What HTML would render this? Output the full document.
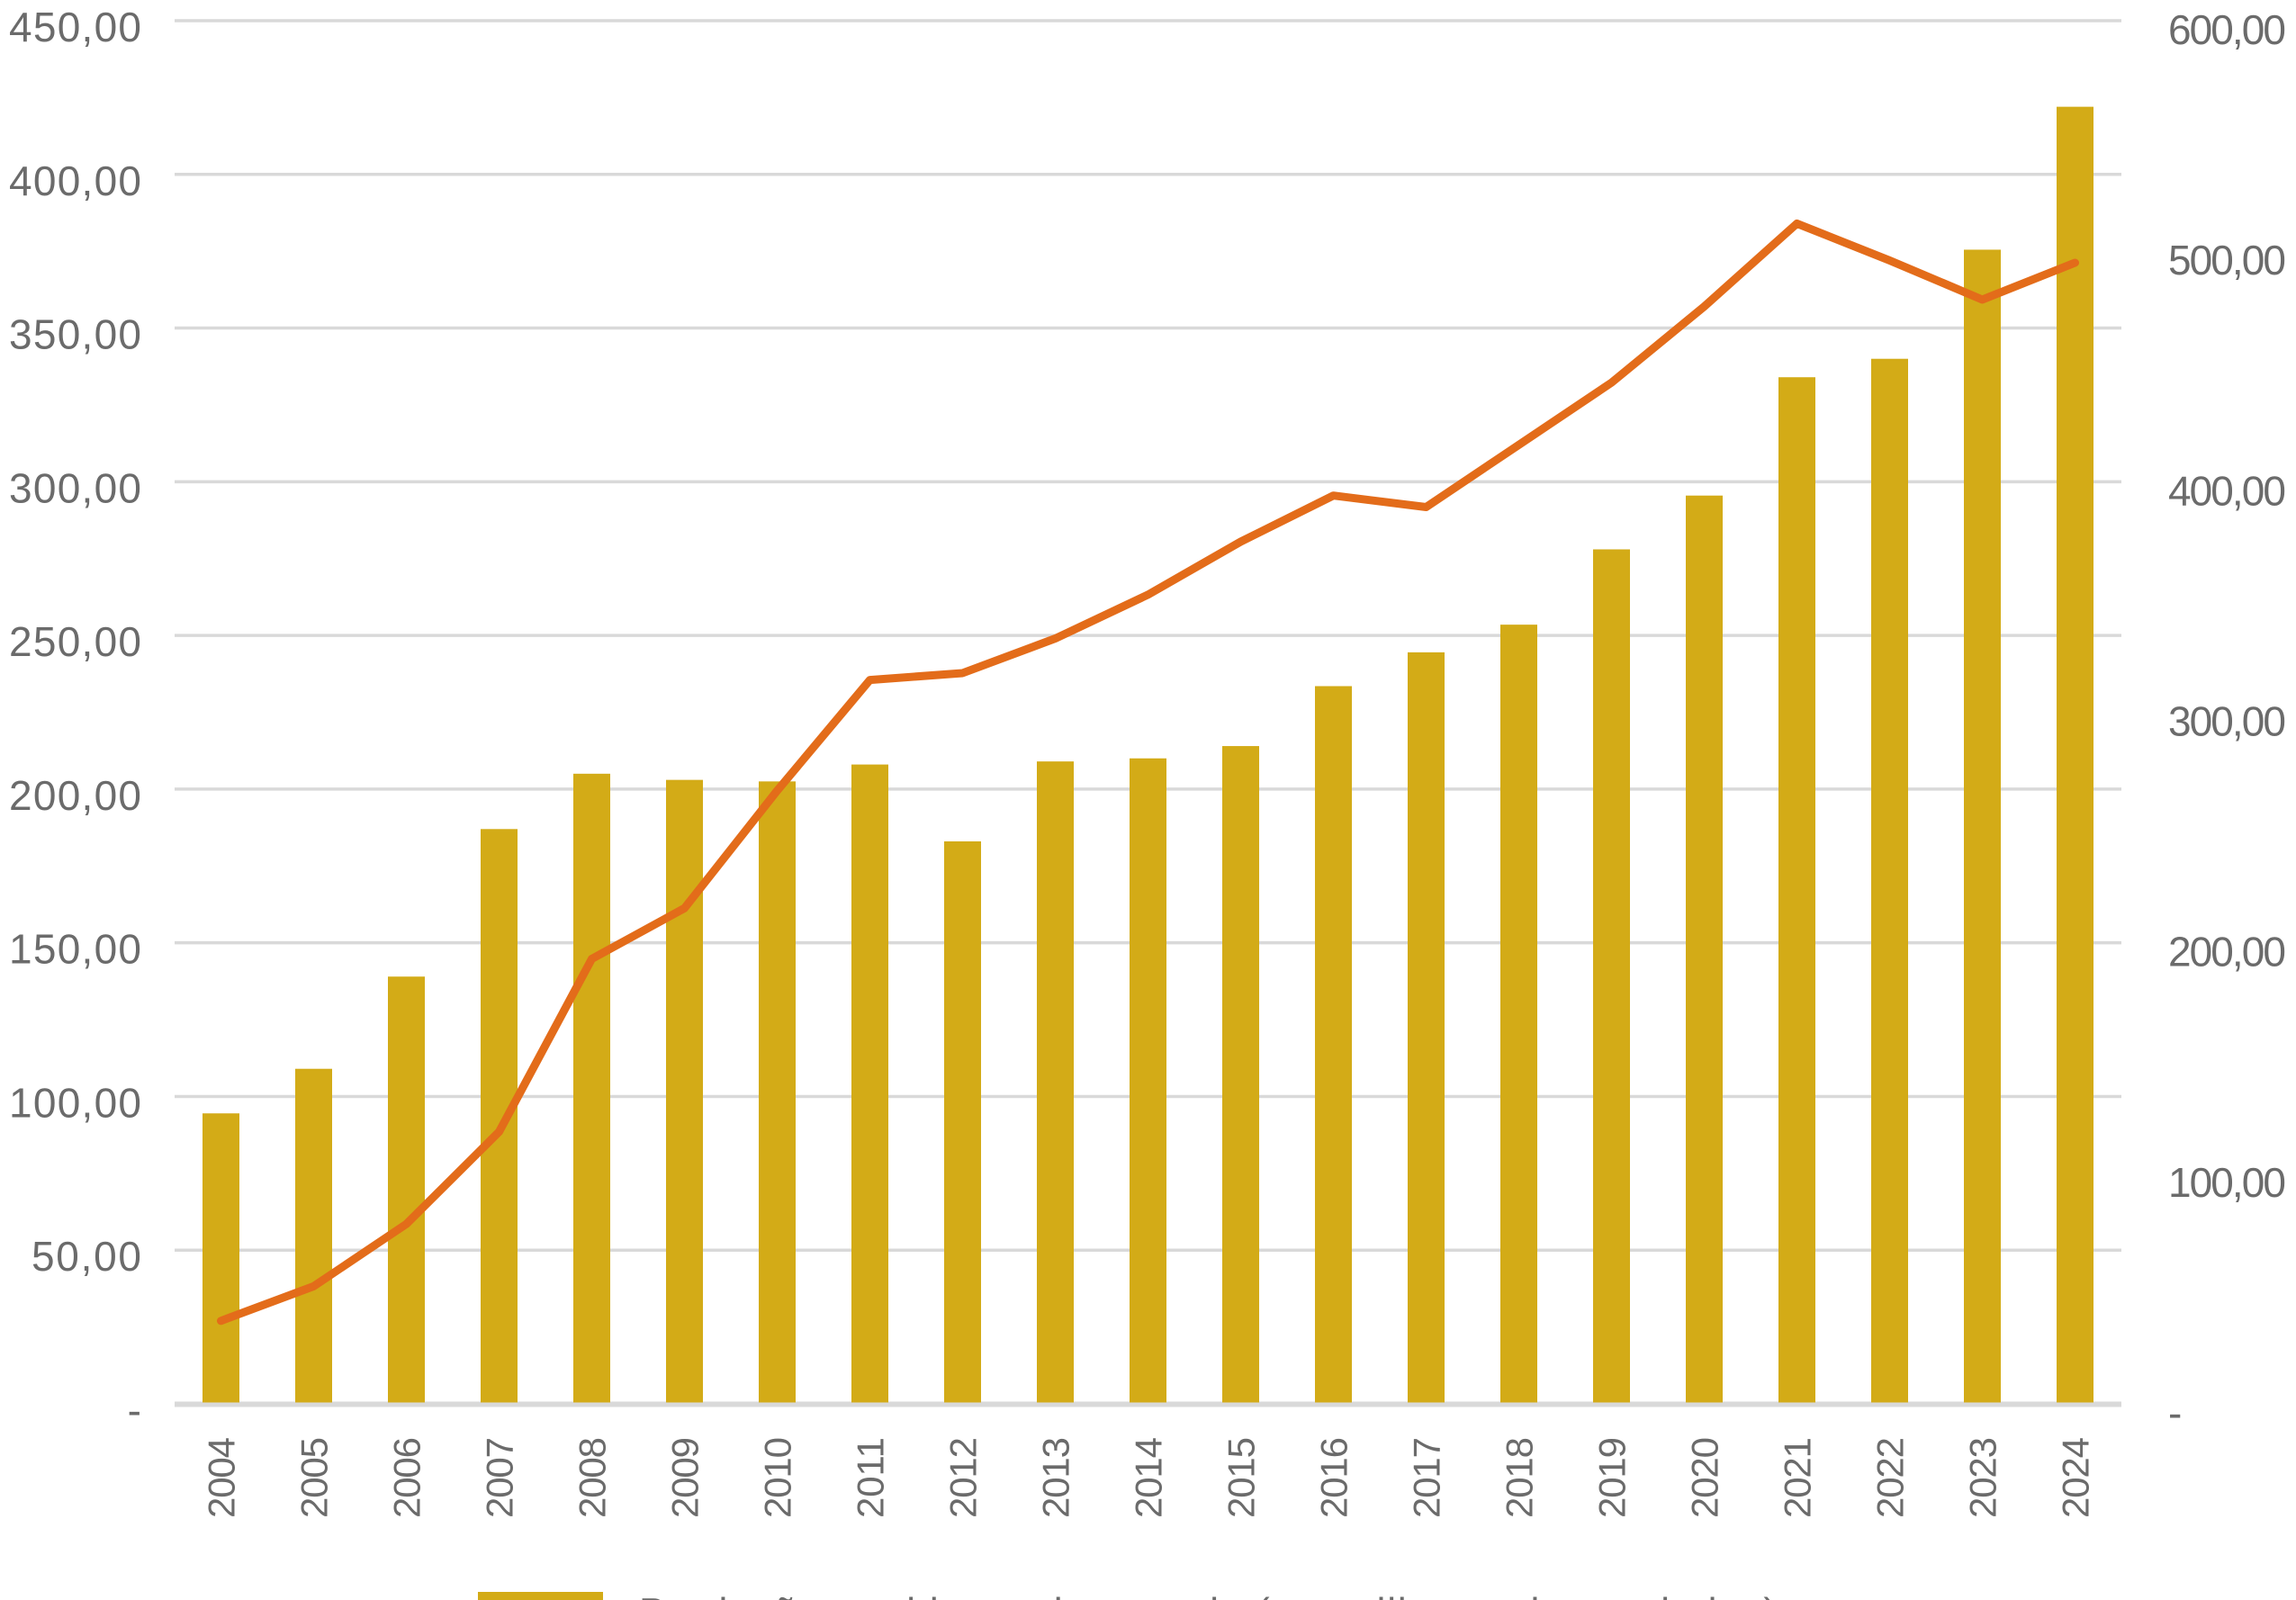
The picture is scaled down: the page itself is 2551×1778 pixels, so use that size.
<!DOCTYPE html>
<html><head><meta charset="utf-8"><style>
html,body{margin:0;padding:0;background:#fff;width:2551px;height:1778px;overflow:hidden}
svg{display:block}
text{font-family:"Liberation Sans",sans-serif;fill:#6b6b6b}
</style></head><body>
<svg id="chart" width="2551" height="1778" viewBox="0 0 2551 1778" xmlns="http://www.w3.org/2000/svg">
<g id="grid"></g>
<g id="bars"></g>
<g id="line"></g>
<g id="yl"></g>
<g id="yr"></g>
<g id="xl"></g>
<g>
<rect x="531" y="1769" width="139" height="20" fill="#d3ab17"/>
<text x="710" y="1806" font-size="44" textLength="1264">Produção total bruta de energia (em milhares de toneladas)</text>
</g>
</svg>
<script>
const categories=["2004","2005","2006","2007","2008","2009","2010","2011","2012","2013","2014","2015","2016","2017","2018","2019","2020","2021","2022","2023","2024"];
const barValues=[94.5,109,139,187,205,203,202.5,208,183,209,210,214,233.5,244.5,253.5,278,295.5,334,340,375.5,422];
const lineValues=[36,51,78,118,193,215,266,314,317,332,351,374,394,389,416,443,476,512,496,479,495];
const leftTicks=[0,50,100,150,200,250,300,350,400,450];
const leftTickLabels=["-","50,00","100,00","150,00","200,00","250,00","300,00","350,00","400,00","450,00"];
const rightTicks=[0,100,200,300,400,500,600];
const rightTickLabels=["-","100,00","200,00","300,00","400,00","500,00","600,00"];

const NS="http://www.w3.org/2000/svg";
const X0=194,X1=2357,YB=1560,YT=23;
const bw=(X1-X0)/categories.length;
const xC=i=>X0+bw*(i+0.5);
const yL=v=>YB-(v/450)*(YB-YT);
const yR=v=>YB-(v/600)*(YB-YT);
function mk(tag,attrs,parent){const e=document.createElementNS(NS,tag);for(const k in attrs)e.setAttribute(k,attrs[k]);parent.appendChild(e);return e;}
const g=id=>document.getElementById(id);

leftTicks.forEach((t,i)=>{
  const ln=mk('line',{x1:X0,x2:X1,y1:yL(t),y2:yL(t),stroke:'#d9d9d9','stroke-width':t===0?5:3.5},g('grid'));
  
  
  const lab=leftTickLabels[i];
  const tx=mk('text',{x:157,y:yL(t)+23,'text-anchor':'end','font-size':46},g('yl'));
  if(lab!=='-')tx.setAttribute('textLength',lab.length===5?122:147);
  tx.textContent=lab;
  
  
});
rightTicks.forEach((t,i)=>{
  const lab=rightTickLabels[i];
  const tx=mk('text',{x:2409,y:yR(t)+26,'font-size':46},g('yr'));
  if(lab!=='-')tx.setAttribute('textLength',131);
  tx.textContent=lab;
  
  
});
barValues.forEach((v,i)=>{
  const r=mk('rect',{x:xC(i)-20.5,y:yL(v),width:41,height:YB-yL(v),fill:'#d3ab17'},g('bars'));
  
  
});
const bl=mk('line',{x1:X0,x2:X1,y1:YB+1,y2:YB+1,stroke:'#d9d9d9','stroke-width':5},g('bars'));


const pts=lineValues.map((v,i)=>xC(i)+','+yR(v)).join(' ');
const pl=mk('polyline',{points:pts,fill:'none',stroke:'#e36c1a','stroke-width':9,'stroke-linejoin':'round','stroke-linecap':'round'},g('line'));


categories.forEach((c,i)=>{
  const x=xC(i)+15,y=1597;
  const tx=mk('text',{x:x,y:y,'text-anchor':'end','font-size':42,textLength:90,transform:`rotate(-90 ${x} ${y})`},g('xl'));
  tx.textContent=c;
  
  
});
</script>
</body></html>
